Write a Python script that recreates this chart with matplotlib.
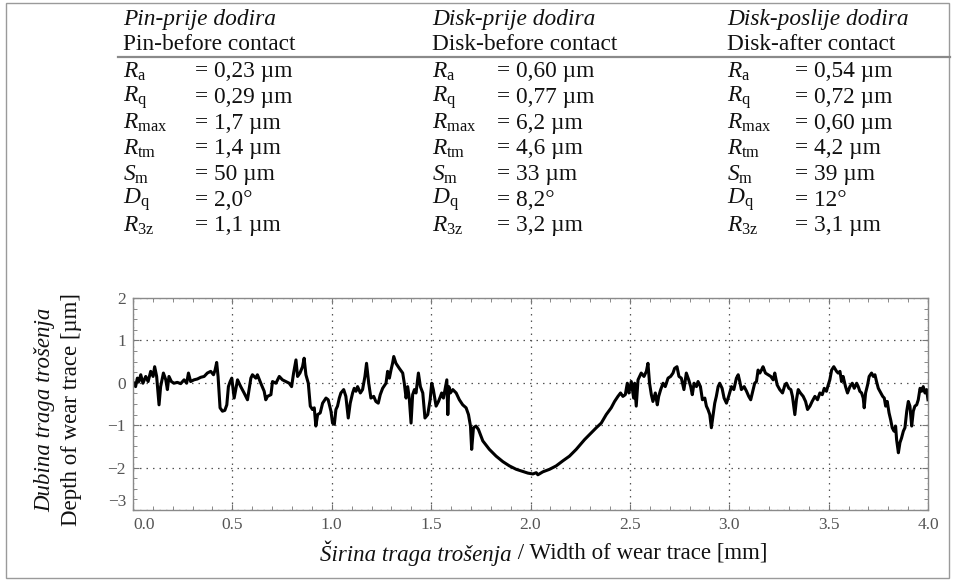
import matplotlib
matplotlib.use('Agg')
import matplotlib.pyplot as plt
from matplotlib.patches import Rectangle
from matplotlib.lines import Line2D
from matplotlib.ticker import MultipleLocator

plt.rcParams['font.family'] = ['Liberation Serif', 'DejaVu Serif']
plt.rcParams['mathtext.fontset'] = 'custom'
plt.rcParams['mathtext.rm'] = 'Liberation Serif'
plt.rcParams['mathtext.it'] = 'Liberation Serif:italic'

# ---------------- data ----------------
width_mm = [
    0.005, 0.013, 0.022, 0.030, 0.039, 0.050, 0.064, 0.076, 0.089, 0.101, 0.109, 0.119, 0.131, 0.139,
    0.153, 0.165, 0.173, 0.181, 0.193, 0.206, 0.223, 0.240, 0.257, 0.270, 0.279, 0.290, 0.307, 0.324,
    0.341, 0.358, 0.374, 0.391, 0.405, 0.413, 0.421, 0.428, 0.438, 0.450, 0.462, 0.472, 0.480, 0.489, 0.497,
    0.509, 0.526, 0.542, 0.559, 0.576, 0.593, 0.601, 0.618, 0.626, 0.643, 0.660, 0.668, 0.677, 0.694,
    0.702, 0.719, 0.736, 0.752, 0.769, 0.786, 0.798, 0.808, 0.820, 0.828, 0.840, 0.853, 0.861, 0.870,
    0.882, 0.892, 0.903, 0.912, 0.920, 0.929, 0.942, 0.954, 0.971, 0.982, 0.996, 1.004, 1.013,
    1.021, 1.029, 1.038, 1.046, 1.060, 1.071, 1.083, 1.093, 1.105, 1.113, 1.122, 1.130, 1.144, 1.155,
    1.167, 1.175, 1.186, 1.197, 1.211, 1.222, 1.234, 1.244, 1.256, 1.273, 1.281, 1.290, 1.298, 1.306,
    1.312, 1.323, 1.340, 1.357, 1.365, 1.374, 1.382, 1.390, 1.399, 1.407, 1.416, 1.424, 1.436, 1.446,
    1.458, 1.469, 1.483, 1.495, 1.503, 1.511,
    1.525, 1.537, 1.547, 1.553, 1.562, 1.570, 1.579, 1.584, 1.589, 1.597, 1.609, 1.626, 1.642, 1.659,
    1.676, 1.688, 1.698, 1.704, 1.713, 1.726, 1.738,
    1.760, 1.793, 1.827, 1.861, 1.894, 1.928, 1.961, 1.987, 2.012, 2.029, 2.037, 2.062, 2.096, 2.129,
    2.163, 2.196, 2.230,
    2.272, 2.306, 2.331, 2.356, 2.381, 2.406, 2.423, 2.440, 2.453, 2.465, 2.477, 2.487, 2.495, 2.507,
    2.519, 2.524, 2.532, 2.541,
    2.557, 2.571, 2.583, 2.591, 2.599, 2.608, 2.616, 2.628, 2.638, 2.645, 2.655, 2.667, 2.678, 2.692,
    2.705, 2.717, 2.725, 2.737, 2.747, 2.759, 2.772, 2.784, 2.796, 2.806, 2.814, 2.823, 2.835, 2.843,
    2.855, 2.865, 2.877, 2.885, 2.893, 2.902, 2.910, 2.919, 2.927, 2.935, 2.944, 2.952, 2.964, 2.974,
    2.986, 2.997, 3.011, 3.023, 3.036,
    3.045, 3.053, 3.061, 3.075, 3.087, 3.098, 3.108, 3.120, 3.128, 3.137, 3.145, 3.154, 3.162, 3.170,
    3.182, 3.196, 3.209, 3.221, 3.229, 3.241, 3.254, 3.268, 3.280, 3.288, 3.300, 3.310, 3.318, 3.330,
    3.338, 3.347, 3.358, 3.372, 3.384, 3.394, 3.406, 3.417, 3.431, 3.444, 3.456, 3.468, 3.478, 3.489,
    3.498, 3.506, 3.515, 3.526, 3.540,
    3.548, 3.557, 3.565, 3.573, 3.585, 3.595, 3.607, 3.619, 3.629, 3.641, 3.649, 3.657, 3.666, 3.674,
    3.679, 3.686, 3.696, 3.704, 3.716, 3.725, 3.733, 3.741, 3.750, 3.763, 3.772, 3.780, 3.787, 3.795,
    3.804, 3.812, 3.820, 3.829, 3.837, 3.842, 3.851, 3.859, 3.867, 3.876, 3.884, 3.893, 3.901, 3.909,
    3.918, 3.926, 3.934, 3.943, 3.951, 3.960, 3.968, 3.976, 3.985, 3.993, 4.000,
]
depth_um = [
    -0.01, -0.09, 0.11, 0.03, 0.19, -0.01, 0.15, 0.03, 0.27, 0.15, 0.38, 0.15, -0.52, -0.09,
    0.23, 0.07, -0.16, 0.15, 0.03, -0.01, 0.01, -0.02, 0.07, -0.01, 0.23, 0.03, 0.07, 0.09,
    0.13, 0.15, 0.23, 0.27, 0.19, 0.30, 0.48, 0.15, -0.59, -0.67, -0.65, -0.52, -0.09, 0.03, 0.11,
    -0.36, 0.07, -0.09, -0.24, -0.40, 0.11, 0.19, 0.11, 0.19, -0.01, -0.20, -0.40, -0.32, -0.28,
    0.03, -0.01, 0.15, 0.07, 0.03, -0.01, -0.09, 0.23, 0.54, 0.15, 0.23, 0.38, 0.58, 0.19,
    -0.01, -0.55, -0.63, -0.59, -1.02, -0.75, -0.71, -0.48, -0.36, -0.40, -0.67, -0.95, -0.98,
    -0.63, -0.55, -0.36, -0.24, -0.16, -0.32, -0.83, -0.48, -0.24, -0.13, -0.20, -0.09, -0.24, -0.16,
    0.15, 0.46, -0.01, -0.36, -0.32, -0.44, -0.48, -0.28, -0.13, -0.01, 0.27, 0.11, 0.30, 0.46,
    0.62, 0.46, 0.34, 0.23, -0.01, -0.36, -0.09, -0.36, -0.95, -0.28, -0.16, -0.24, 0.23, -0.09,
    -0.24, -0.83, -0.75, -0.40, -0.01, -0.16,
    -0.55, -0.44, -0.32, -0.24, -0.36, -0.16, 0.07, -0.75, -0.09, -0.24, -0.16, -0.24, -0.40, -0.52,
    -0.59, -0.75, -1.02, -1.57, -1.06, -1.02, -1.10,
    -1.37, -1.57, -1.73, -1.86, -1.96, -2.04, -2.09, -2.13, -2.15, -2.12, -2.17, -2.10, -2.04, -1.96,
    -1.84, -1.73, -1.57,
    -1.34, -1.18, -1.06, -0.95, -0.75, -0.59, -0.44, -0.32, -0.24, -0.32, -0.28, -0.01, -0.24, 0.03,
    -0.36, -0.01, -0.55, 0.07,
    0.23, 0.15, 0.27, 0.46, -0.01, -0.28, -0.44, -0.24, -0.52, -0.32, -0.16, -0.01, -0.09, 0.11,
    0.15, 0.23, 0.34, 0.38, 0.15, 0.11, -0.16, 0.23, 0.07, -0.09, -0.28, -0.01, -0.09, 0.03,
    -0.09, -0.40, -0.36, -0.55, -0.63, -0.75, -1.06, -0.75, -0.48, -0.32, -0.09, -0.01, -0.13, -0.36,
    -0.48, -0.32, -0.09, -0.16, 0.11,
    0.19, 0.03, -0.16, -0.09, -0.20, -0.32, -0.40, -0.16, -0.01, 0.03, 0.30, 0.23, 0.30, 0.38,
    0.23, 0.19, 0.15, 0.07, 0.23, -0.05, -0.16, -0.24, -0.05, -0.01, -0.13, -0.16, -0.32, -0.75,
    -0.40, -0.16, -0.24, -0.32, -0.44, -0.63, -0.55, -0.44, -0.32, -0.40, -0.24, -0.28, -0.13, -0.20,
    -0.05, 0.07, 0.30, 0.38, 0.27,
    0.23, 0.27, 0.03, 0.15, -0.09, -0.24, -0.09, -0.01, -0.13, -0.01, -0.09, -0.20, -0.24, -0.36,
    -0.59, -0.24, -0.05, 0.15, 0.23, 0.15, 0.19, 0.03, -0.13, -0.24, -0.32, -0.36, -0.55, -0.44,
    -0.71, -0.87, -1.06, -1.14, -1.02, -1.34, -1.65, -1.41, -1.30, -1.14, -1.06, -0.67, -0.44, -0.55,
    -1.02, -0.67, -0.55, -0.52, -0.40, -0.13, -0.20, -0.09, -0.24, -0.16, -0.40,
]

x_ticks = [0.0, 0.5, 1.0, 1.5, 2.0, 2.5, 3.0, 3.5, 4.0]
y_ticks = [-3, -2, -1, 0, 1, 2]
x_tick_labels = ['0.0', '0.5', '1.0', '1.5', '2.0', '2.5', '3.0', '3.5', '4.0']
y_tick_labels = ['\u22123', '\u22122', '\u22121', '0', '1', '2']

titles_hr = ['Pin-prije dodira', 'Disk-prije dodira', 'Disk-poslije dodira']
titles_en = ['Pin-before contact', 'Disk-before contact', 'Disk-after contact']
param_symbols = [r'$R_\mathrm{a}$', r'$R_\mathrm{q}$', r'$R_\mathrm{max}$', r'$R_\mathrm{tm}$',
                 r'$S_\mathrm{m}$', r'$D_\mathrm{q}$', r'$R_\mathrm{3z}$']
pin_before = ['= 0,23 \u00b5m', '= 0,29 \u00b5m', '= 1,7 \u00b5m', '= 1,4 \u00b5m',
              '= 50 \u00b5m', '= 2,0\u00b0', '= 1,1 \u00b5m']
disk_before = ['= 0,60 \u00b5m', '= 0,77 \u00b5m', '= 6,2 \u00b5m', '= 4,6 \u00b5m',
               '= 33 \u00b5m', '= 8,2\u00b0', '= 3,2 \u00b5m']
disk_after = ['= 0,54 \u00b5m', '= 0,72 \u00b5m', '= 0,60 \u00b5m', '= 4,2 \u00b5m',
              '= 39 \u00b5m', '= 12\u00b0', '= 3,1 \u00b5m']

x_label_hr = 'Širina traga trošenja'
x_label_en = ' / Width of wear trace [mm]'
y_label_hr = 'Dubina traga trošenja'
y_label_en = 'Depth of wear trace [\u00b5m]'

# ---------------- figure ----------------
W, H = 954, 583
fig = plt.figure(figsize=(W / 100, H / 100), dpi=100)
fig.patch.set_facecolor('white')


def fx(px):
    return px / W


def fy(py):
    return 1 - py / H


# outer border
fig.patches.append(Rectangle((fx(6), fy(578)), fx(943), 575 / H, transform=fig.transFigure,
                             fill=False, edgecolor='#9a9a9a', linewidth=1.0))

# header table
col_label_x = [123, 432, 727]
col_value_x = [195, 497, 795]
columns = [pin_before, disk_before, disk_after]
fs = 16.8
ink = '#111111'
for i in range(3):
    fig.text(fx(col_label_x[i]), fy(19), titles_hr[i], fontsize=fs, style='italic',
             ha='left', va='center', color=ink)
    fig.text(fx(col_label_x[i]), fy(44), titles_en[i], fontsize=fs,
             ha='left', va='center', color=ink)
    for r in range(7):
        yy = 72 + r * 25.6
        fig.text(fx(col_label_x[i]), fy(yy), param_symbols[r], fontsize=fs,
                 ha='left', va='center', color=ink)
        fig.text(fx(col_value_x[i]), fy(yy), columns[i][r], fontsize=fs,
                 ha='left', va='center', color=ink)

fig.lines.append(Line2D([fx(118), fx(950)], [fy(57), fy(57)], transform=fig.transFigure,
                        color='#8a8a8a', linewidth=1.6))

# plot axes
ax = fig.add_axes([fx(133), fy(510), (928 - 133) / W, (510 - 298) / H])
ax.plot(width_mm, depth_um, color='black', linewidth=2.2, solid_joinstyle='round')
ax.set_xlim(0, 4)
ax.set_ylim(-3, 2)
ax.set_xticks(x_ticks)
ax.set_xticklabels(x_tick_labels)
ax.set_yticks(y_ticks)
ax.set_yticklabels(y_tick_labels)
ax.xaxis.set_minor_locator(MultipleLocator(0.1))
ax.yaxis.set_minor_locator(MultipleLocator(0.25))
ax.tick_params(which='both', direction='in', color='#777', top=True, right=True)
ax.tick_params(which='major', length=4, labelsize=12.5, labelcolor='#555', pad=5)
ax.tick_params(which='minor', length=3)
ax.get_xticklabels()[0].set_horizontalalignment('left')
ax.get_yticklabels()[0].set_verticalalignment('bottom')
for sp in ax.spines.values():
    sp.set_color('#8a8a8a')
    sp.set_linewidth(1.0)
ax.grid(True, which='major', linestyle=(0, (1.2, 4)), color='#555', linewidth=0.9)

# axis labels (italic Croatian part + roman English part)
lfs = 16.5
renderer = fig.canvas.get_renderer()
t1 = fig.text(fx(320), fy(553), x_label_hr, fontsize=lfs, style='italic',
              ha='left', va='center', color=ink)
bb = t1.get_window_extent(renderer=renderer)
fig.text(bb.x1 / W, fy(553), x_label_en, fontsize=lfs,
         ha='left', va='center', color=ink)
fig.text(fx(45), fy(410), y_label_hr, fontsize=lfs, style='italic',
         rotation=90, ha='center', va='center', color=ink)
fig.text(fx(71), fy(410), y_label_en, fontsize=lfs,
         rotation=90, ha='center', va='center', color=ink)

fig.savefig('out.png', dpi=100, facecolor='white')
